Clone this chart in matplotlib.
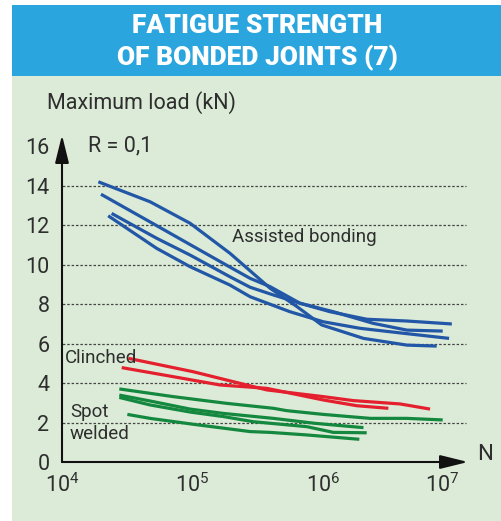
import matplotlib
matplotlib.use("Agg")
import matplotlib.pyplot as plt
from matplotlib.patches import Rectangle
from matplotlib.transforms import ScaledTranslation

# cycles N and max load (kN)
bond_n = [
    [1.9e4, 4.73e4, 9.6e4, 1.94e5, 3.94e5, 6.3e5, 9.8e5, 2.05e6, 4.4e6, 7.46e6],
    [1.99e4, 5.32e4, 9.6e4, 1.94e5, 2.77e5, 3.94e5, 6.68e5, 1.135e6, 2.17e6, 4.4e6, 9.75e6],
    [2.4e4, 5.32e4, 9.6e4, 1.94e5, 2.77e5, 4.17e5, 6.68e5, 1.205e6, 2.44e6, 4.4e6, 8.3e6],
    [2.26e4, 5.32e4, 9.6e4, 1.94e5, 2.77e5, 5.6e5, 1.01e6, 1.93e6, 4.14e6, 9.29e6],
]
bond_load = [
    [14.19, 13.18, 12.09, 10.57, 8.80, 7.88, 6.94, 6.26, 5.92, 5.87],
    [13.56, 11.97, 11.01, 9.87, 9.30, 8.88, 8.04, 7.61, 7.23, 7.14, 6.99],
    [12.59, 11.33, 10.48, 9.38, 8.85, 8.46, 8.04, 7.61, 7.02, 6.68, 6.63],
    [12.47, 10.82, 9.89, 8.96, 8.37, 7.61, 7.10, 6.77, 6.52, 6.26],
]
clinch_n = [
    [3.23e4, 1.016e5, 1.83e5, 3.72e5, 1.01e6, 1.71e6, 3.91e6, 6.64e6],
    [2.87e4, 7.14e4, 1.63e5, 3.72e5, 1.01e6, 1.82e6, 3.18e6],
]
clinch_load = [
    [5.25, 4.57, 4.15, 3.65, 3.31, 3.11, 2.94, 2.68],
    [4.78, 4.32, 3.90, 3.73, 3.14, 2.85, 2.72],
]
spot_n = [
    [2.75e4, 7.14e4, 1.83e5, 4.17e5, 5.28e5, 1.01e6, 2.3e6, 4.4e6, 8.3e6],
    [2.75e4, 4.73e4, 9.6e4, 1.73e5, 4.17e5, 8.65e5, 2.05e6],
    [2.75e4, 4.73e4, 9.6e4, 1.73e5, 2.93e5, 7.53e5, 1.205e6, 2.17e6],
    [3.17e4, 4.73e4, 1.016e5, 2.77e5, 3.94e5, 7.53e5, 1.905e6],
]
spot_load = [
    [3.70, 3.31, 2.97, 2.72, 2.60, 2.41, 2.21, 2.21, 2.13],
    [3.39, 3.09, 2.68, 2.46, 2.21, 1.96, 1.74],
    [3.27, 2.89, 2.53, 2.30, 2.04, 1.79, 1.50, 1.48],
    [2.41, 2.21, 1.91, 1.54, 1.50, 1.37, 1.15],
]
y_ticks = [0, 2, 4, 6, 8, 10, 12, 14, 16]
grid_levels = [2, 4, 6, 8, 10, 12, 14]
x_ticks = [1e4, 1e5, 1e6, 1e7]
x_labels = [r"$\mathregular{10^{4}}$", r"$\mathregular{10^{5}}$",
            r"$\mathregular{10^{6}}$", r"$\mathregular{10^{7}}$"]

W, H = 502, 521
plt.rcParams['font.family'] = ['Roboto', 'DejaVu Sans']
txt = '#2e2e2e'

def fx(x):
    return x / W

def fy(y):
    return 1 - y / H

fig = plt.figure(figsize=(5.02, 5.21), dpi=100)
fig.patch.set_facecolor('white')
fig.add_artist(Rectangle((fx(12), fy(521)), fx(490), 445 / H, transform=fig.transFigure,
                         facecolor='#dcebd7', edgecolor='none', zorder=0))
fig.add_artist(Rectangle((fx(12), fy(76)), fx(490), 71 / H, transform=fig.transFigure,
                         facecolor='#2aa5de', edgecolor='none', zorder=0))
fig.text(fx(257), fy(26), "FATIGUE STRENGTH", color='white', fontsize=19,
         fontweight='heavy', ha='center', va='center')
fig.text(fx(257), fy(58), "OF BONDED JOINTS (7)", color='white', fontsize=19,
         fontweight='heavy', ha='center', va='center')

ax = fig.add_axes([fx(62), fy(462), fx(406), 327 / H])
ax.patch.set_visible(False)
ax.set_xscale('log')
ax.set_xlim(1e4, 10 ** 7.113)
ax.set_ylim(0, 16.56)
for s in ax.spines.values():
    s.set_visible(False)

ax.hlines(grid_levels, 10 ** 3.97, 10 ** 7.1, colors='#444444', lw=0.9,
          linestyles=(0, (2, 1.5)), zorder=1)

for n, l in zip(bond_n, bond_load):
    ax.plot(n, l, color='#2256a6', lw=2.3, solid_capstyle='butt', zorder=3)
for n, l in zip(clinch_n, clinch_load):
    ax.plot(n, l, color='#e5202e', lw=2.3, solid_capstyle='butt', zorder=3)
for n, l in zip(spot_n, spot_load):
    ax.plot(n, l, color='#14883f', lw=2.3, solid_capstyle='butt', zorder=3)

# axis arrows
arr = dict(arrowstyle='-|>,head_length=1.7,head_width=0.42', color='#111111',
           lw=1.5, shrinkA=0, shrinkB=0, mutation_scale=10)
ax.annotate('', xy=(1e4, 16.56), xytext=(1e4, 0), arrowprops=arr,
            annotation_clip=False, zorder=4)
ax.annotate('', xy=(10 ** 7.113, 0), xytext=(1e4, 0), arrowprops=arr,
            annotation_clip=False, zorder=4)

ax.set_yticks(y_ticks)
ax.set_yticklabels([str(v) for v in y_ticks])
ax.tick_params(axis='y', length=0, pad=9, labelsize=15.5, labelcolor=txt)
ax.set_xticks(x_ticks)
ax.set_xticklabels(x_labels)
ax.set_xticks([1e5, 1e6], minor=True)
ax.tick_params(axis='x', which='major', length=0, pad=8, labelsize=15.5, labelcolor=txt)
ax.tick_params(axis='x', which='minor', direction='inout', length=10, width=1.2,
               color='#111111', labelbottom=False)
lbl = ax.get_xticklabels()[-1]
lbl.set_transform(lbl.get_transform() + ScaledTranslation(-11 / 100, 0, fig.dpi_scale_trans))

fig.text(fx(47), fy(103), "Maximum load (kN)", fontsize=15.5, color=txt, va='center')
fig.text(fx(88), fy(146), "R = 0,1", fontsize=15.5, color=txt, va='center')
fig.text(fx(477), fy(455), "N", fontsize=16, color=txt, va='center')
fig.text(fx(232), fy(237), "Assisted bonding", fontsize=13.5, color=txt, va='center')
fig.text(fx(65), fy(358), "Clinched", fontsize=13.5, color=txt, va='center')
fig.text(fx(70), fy(412), "Spot", fontsize=13.5, color=txt, va='center')
fig.text(fx(70), fy(434), "welded", fontsize=13.5, color=txt, va='center')

fig.savefig("out.png", dpi=100, facecolor=fig.get_facecolor())
